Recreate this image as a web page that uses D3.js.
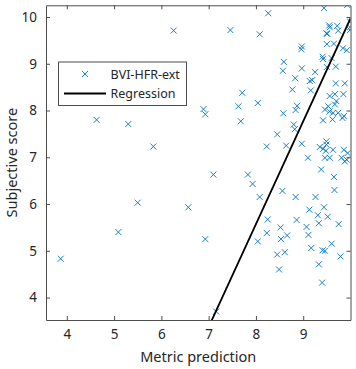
<!DOCTYPE html>
<html><head><meta charset="utf-8">
<script src="https://cdn.jsdelivr.net/npm/d3@7"></script>
<style>body{margin:0;background:#fff}svg{display:block}text{font-family:"Noto Sans",sans-serif}</style>
</head><body><svg id="c" width="356" height="369"></svg>
<script>
const seriesName = "BVI-HFR-ext";
const regName = "Regression";
const xTicks = [4,5,6,7,8,9];
const yTicks = [4,5,6,7,8,9,10];
const metricX = [3.87,4.63,5.09,5.30,5.50,5.83,6.26,6.57,6.89,6.93,6.93,7.10,7.16,7.46,7.63,7.68,7.71,7.83,7.93,8.04,8.04,8.08,8.08,8.23,8.23,8.25,8.26,8.45,8.45,8.49,8.52,8.53,8.56,8.57,8.58,8.59,8.61,8.64,8.66,8.77,8.80,8.82,8.83,8.84,8.84,8.86,8.87,8.96,8.97,8.97,8.97,9.07,9.10,9.11,9.13,9.14,9.16,9.17,9.19,9.25,9.26,9.31,9.33,9.33,9.38,9.40,9.41,9.41,9.42,9.44,9.44,9.46,9.49,9.51,9.50,9.50,9.52,9.55,9.56,9.60,9.60,9.65,9.65,9.66,9.69,9.72,9.74,9.75,9.79,9.84,9.92,9.93,9.99,9.99,9.99,9.56,9.67,9.85,9.70,9.53,9.46,9.56,9.63,9.74,9.86,9.83,9.42,9.62,9.69,9.88,9.67,9.49,9.49,9.35,9.42,9.48,9.63,9.86,9.94,9.46,9.56,9.81,9.92,9.88];
const subjY = [4.83,7.80,5.40,7.71,6.03,7.23,9.71,5.93,8.03,7.92,5.25,6.63,3.70,9.72,8.09,7.77,8.38,6.63,6.43,8.16,5.20,9.63,6.15,7.23,5.38,5.67,10.08,7.49,4.92,4.60,5.50,5.25,6.28,8.85,7.94,9.04,4.97,7.25,5.33,8.45,7.70,7.60,8.69,8.01,6.15,5.66,8.10,9.31,9.37,8.90,7.29,5.51,6.99,5.34,5.88,8.63,8.43,5.06,8.65,8.82,6.15,5.76,5.59,4.71,6.74,4.32,9.15,5.01,9.10,10.19,5.93,5.00,9.65,9.64,9.42,8.93,5.73,9.82,9.78,9.12,5.15,9.43,6.58,6.30,8.94,9.81,9.71,5.57,4.88,9.33,9.29,10.26,9.90,9.78,9.72,8.31,8.35,8.35,8.20,8.09,8.02,7.98,7.95,7.95,7.88,7.84,7.79,7.81,8.58,8.58,8.13,7.34,7.27,7.22,7.18,7.14,7.16,7.16,7.09,6.99,6.99,6.99,6.95,6.91];
const regSlope = 2.2, regIntercept = -12.03;
const xDomain = [3.56, 10.0], yDomain = [3.52, 10.25];

const svg = d3.select("#c");
const L=46, R=350.5, T=5.3, B=320;
const x = d3.scaleLinear().domain(xDomain).range([L,R]);
const y = d3.scaleLinear().domain(yDomain).range([B,T]);
const axc = "#262626", gridc="#4d4d4d";

svg.append("clipPath").attr("id","clip").append("rect").attr("x",L).attr("y",T).attr("width",R-L).attr("height",B-T);

const blue = "#0072BD";
const g = svg.append("g").attr("clip-path","url(#clip)");
const pts = metricX.map((v,i)=>[v,subjY[i]]);
const s=3;
g.selectAll("path.pt").data(pts).enter().append("path").attr("class","pt")
  .attr("d",d=>{const px=x(d[0]),py=y(d[1]);return `M${px-s},${py-s}L${px+s},${py+s}M${px-s},${py+s}L${px+s},${py-s}`;})
  .attr("stroke",blue).attr("stroke-width",0.9).attr("fill","none");

const rx = xDomain;
g.append("line").attr("x1",x(rx[0])).attr("y1",y(regSlope*rx[0]+regIntercept))
  .attr("x2",x(rx[1])).attr("y2",y(regSlope*rx[1]+regIntercept))
  .attr("stroke","#000").attr("stroke-width",1.8);

// axes
const fs = 13.5;
const fmt = d3.format("d");
const xb = svg.append("g").attr("transform",`translate(0,${B})`).call(d3.axisBottom(x).tickValues(xTicks).tickFormat(fmt).tickSizeInner(-4).tickSizeOuter(0).tickPadding(9));
const xt = svg.append("g").attr("transform",`translate(0,${T})`).call(d3.axisTop(x).tickValues(xTicks).tickSizeInner(-4).tickSizeOuter(0).tickFormat(""));
const yl = svg.append("g").attr("transform",`translate(${L},0)`).call(d3.axisLeft(y).tickValues(yTicks).tickFormat(fmt).tickSizeInner(-4).tickSizeOuter(0).tickPadding(9));
const yr = svg.append("g").attr("transform",`translate(${R},0)`).call(d3.axisRight(y).tickValues(yTicks).tickSizeInner(-4).tickSizeOuter(0).tickFormat(""));
[xb,xt,yl,yr].forEach(a=>{a.select(".domain").attr("stroke",gridc).attr("stroke-width",1);a.selectAll("line").attr("stroke",gridc);a.selectAll("text").attr("fill",axc).attr("font-size",fs).attr("font-family","Noto Sans");});

svg.append("text").attr("x",(L+R)/2).attr("y",362).attr("text-anchor","middle").attr("font-size",14.5).attr("fill",axc).text("Metric prediction");
svg.append("text").attr("transform",`translate(17,${(T+B)/2}) rotate(-90)`).attr("text-anchor","middle").attr("font-size",14.5).attr("fill",axc).text("Subjective score");

// legend
const lg = svg.append("g");
lg.append("rect").attr("x",58.5).attr("y",62).attr("width",128).attr("height",43.5).attr("fill","#fff").attr("stroke",gridc).attr("stroke-width",1);
const mx=85,my=74;
lg.append("path").attr("d",`M${mx-s},${my-s}L${mx+s},${my+s}M${mx-s},${my+s}L${mx+s},${my-s}`).attr("stroke",blue).attr("stroke-width",0.9);
lg.append("line").attr("x1",64).attr("x2",106).attr("y1",93.5).attr("y2",93.5).attr("stroke","#000").attr("stroke-width",1.8);
lg.append("text").attr("x",110.5).attr("y",78.5).attr("font-size",12.5).attr("fill",axc).text(seriesName);
lg.append("text").attr("x",110.5).attr("y",98).attr("font-size",12.5).attr("fill",axc).text(regName);
</script></body></html>
